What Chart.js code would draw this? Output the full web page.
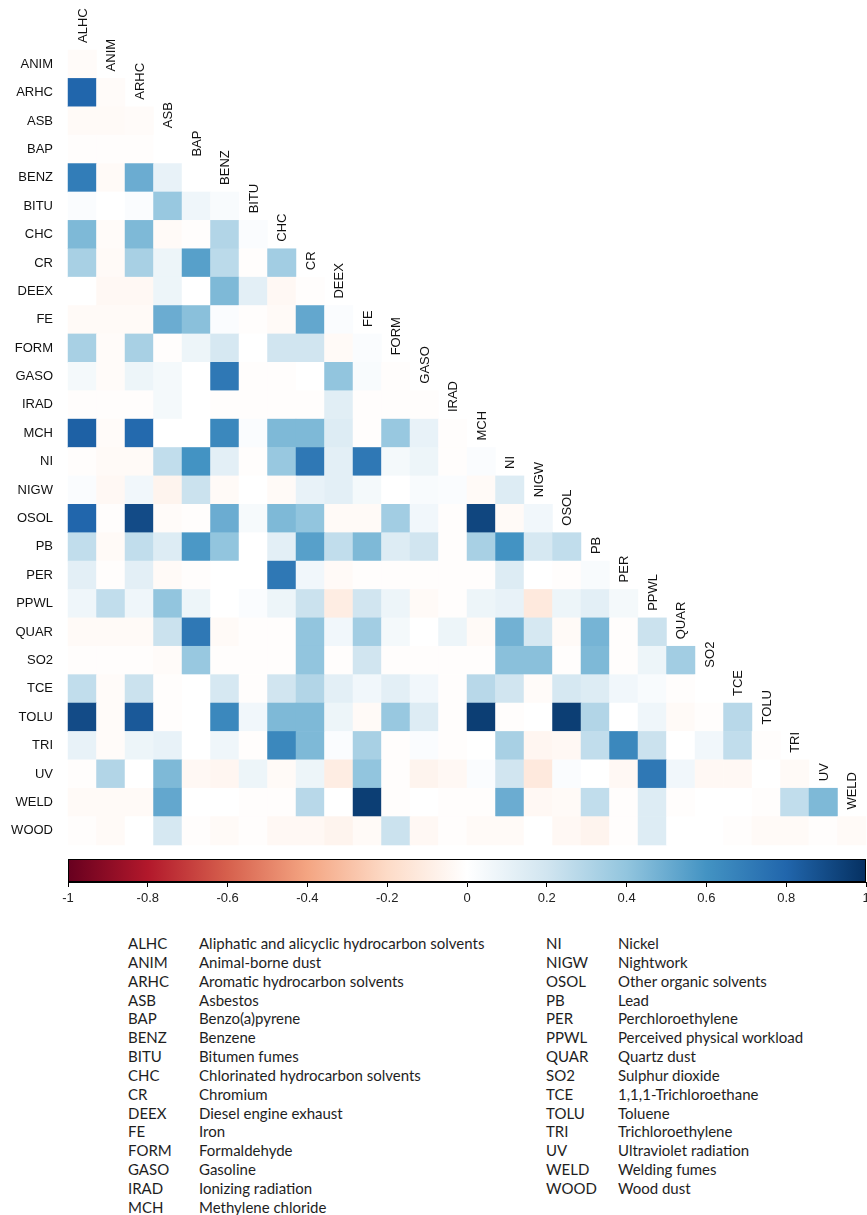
<!DOCTYPE html>
<html>
<head>
<meta charset="utf-8">
<script src="https://cdn.jsdelivr.net/npm/chart.js@4/dist/chart.umd.min.js"></script>
<style>
  body { margin: 0; width: 867px; height: 1215px; background: #fff; overflow: hidden; position: relative; }
  #heatWrap { position: absolute; left: 0; top: 0; width: 867px; height: 860px; }
  #barWrap { position: absolute; left: 0; top: 840px; width: 880px; height: 65px; }
  .key { position: absolute; font: 15px Lato, "Open Sans", sans-serif; color: #1e1e1e; line-height: 18.85px; white-space: nowrap; }
  .key div { height: 18.85px; }
</style>
</head>
<body>
<div id="heatWrap"><canvas id="heat"></canvas></div>
<div id="barWrap"><canvas id="bar"></canvas></div>
<div class="key" id="codesL" style="left:128px;top:934px"></div>
<div class="key" id="namesL" style="left:199px;top:934px"></div>
<div class="key" id="codesR" style="left:546px;top:934px"></div>
<div class="key" id="namesR" style="left:618px;top:934px"></div>
<script>
// exposure codes and what they stand for
const codes = ['ALHC', 'ANIM', 'ARHC', 'ASB', 'BAP', 'BENZ', 'BITU', 'CHC', 'CR', 'DEEX', 'FE', 'FORM', 'GASO', 'IRAD', 'MCH',
  'NI', 'NIGW', 'OSOL', 'PB', 'PER', 'PPWL', 'QUAR', 'SO2', 'TCE', 'TOLU', 'TRI', 'UV', 'WELD', 'WOOD'];
const names = ['Aliphatic and alicyclic hydrocarbon solvents', 'Animal-borne dust', 'Aromatic hydrocarbon solvents', 'Asbestos',
  'Benzo(a)pyrene', 'Benzene', 'Bitumen fumes', 'Chlorinated hydrocarbon solvents', 'Chromium', 'Diesel engine exhaust', 'Iron',
  'Formaldehyde', 'Gasoline', 'Ionizing radiation', 'Methylene chloride', 'Nickel', 'Nightwork', 'Other organic solvents', 'Lead',
  'Perchloroethylene', 'Perceived physical workload', 'Quartz dust', 'Sulphur dioxide', '1,1,1-Trichloroethane', 'Toluene',
  'Trichloroethylene', 'Ultraviolet radiation', 'Welding fumes', 'Wood dust'];

// lower triangle, one row per exposure (correlation with ALHC, ANIM, ... in order)
const ANIM = [-0.02];
const ARHC = [0.8, -0.02];
const ASB  = [-0.03, -0.03, -0.02];
const BAP  = [-0.01, -0.01, -0.01, 0];
const BENZ = [0.7, -0.03, 0.5, 0.1, 0];
const BITU = [0.02, 0, 0.02, 0.38, 0.07, 0.03];
const CHC  = [0.45, -0.02, 0.45, -0.03, -0.01, 0.3, 0.02];
const CR   = [0.33, -0.03, 0.33, 0.08, 0.55, 0.27, -0.01, 0.35];
const DEEX = [0, -0.04, -0.04, 0.08, 0, 0.45, 0.12, -0.04, -0.01];
const FE   = [-0.03, -0.03, -0.03, 0.5, 0.42, 0.02, -0.01, -0.03, 0.52, 0.02];
const FORM = [0.33, -0.02, 0.33, -0.01, 0.08, 0.18, 0, 0.2, 0.2, -0.03, 0.02];
const GASO = [0.05, -0.02, 0.08, 0.05, 0, 0.72, -0.01, -0.01, 0, 0.4, 0.03, -0.01];
const IRAD = [-0.01, -0.01, -0.01, 0.05, 0, -0.01, -0.01, -0.01, -0.01, 0.13, -0.01, -0.01, -0.01];
const MCH  = [0.82, -0.02, 0.78, 0, 0, 0.65, 0.02, 0.45, 0.45, 0.15, -0.01, 0.38, 0.1, -0.01];
const NI   = [-0.01, -0.03, -0.03, 0.25, 0.6, 0.12, -0.01, 0.38, 0.72, 0.12, 0.72, 0.05, 0.08, -0.01, 0.02];
const NIGW = [0.02, -0.04, 0.06, -0.06, 0.22, -0.03, 0, -0.03, 0.1, 0.12, 0.05, 0, 0.03, 0.02, -0.03, 0.15];
const OSOL = [0.8, -0.01, 0.9, -0.02, -0.01, 0.5, 0.04, 0.45, 0.4, -0.03, -0.03, 0.35, 0.06, -0.01, 0.92, -0.03, 0.06];
const PB   = [0.25, -0.03, 0.25, 0.15, 0.58, 0.4, 0, 0.12, 0.55, 0.25, 0.45, 0.15, 0.2, -0.01, 0.33, 0.6, 0.18, 0.25];
const PER  = [0.12, -0.01, 0.12, -0.03, -0.01, 0, 0, 0.72, 0.06, -0.03, -0.01, -0.01, -0.01, -0.01, -0.01, 0.15, 0, -0.01, 0.03];
const PPWL = [0.07, 0.25, 0.07, 0.4, 0.08, 0, 0.02, 0.08, 0.22, -0.1, 0.2, 0.08, -0.03, -0.01, 0.08, 0.1, -0.12, 0.08, 0.12, 0.05];
const QUAR = [-0.03, -0.03, -0.03, 0.22, 0.72, -0.03, -0.01, -0.01, 0.4, 0.06, 0.35, 0.05, 0, 0.08, -0.03, 0.48, 0.18, -0.03, 0.47, -0.01, 0.22];
const SO2  = [-0.01, -0.01, -0.01, -0.02, 0.38, -0.01, -0.01, -0.01, 0.4, -0.01, 0.2, -0.01, -0.01, -0.01, -0.01, 0.42, 0.42, -0.01, 0.45, -0.01, 0.08, 0.35];
const TCE  = [0.25, -0.02, 0.22, -0.01, 0, 0.18, -0.01, 0.2, 0.3, 0.12, 0.06, 0.12, 0.06, -0.01, 0.28, 0.2, -0.02, 0.18, 0.15, 0.06, 0.03, -0.01, 0];
const TOLU = [0.9, -0.02, 0.85, -0.01, 0, 0.65, 0.06, 0.45, 0.45, 0.08, -0.03, 0.38, 0.15, -0.01, 0.95, -0.01, 0, 0.95, 0.3, 0, 0.07, -0.03, -0.01, 0.28];
const TRI  = [0.1, -0.02, 0.08, 0.1, 0, 0.07, -0.01, 0.65, 0.45, 0.02, 0.33, -0.01, 0.02, -0.01, 0, 0.33, -0.05, -0.04, 0.25, 0.65, 0.22, 0, 0.06, 0.25, -0.01];
const UV   = [-0.01, 0.3, 0, 0.45, -0.04, -0.05, 0.08, -0.03, 0.08, -0.1, 0.4, -0.01, -0.06, -0.04, 0.02, 0.2, -0.12, 0.02, 0, -0.04, 0.72, 0.06, -0.04, -0.04, 0, -0.03];
const WELD = [-0.03, -0.03, -0.03, 0.52, 0, 0, -0.01, -0.01, 0.28, 0, 0.95, -0.01, 0, -0.01, -0.01, 0.5, -0.04, -0.03, 0.25, -0.01, 0.15, -0.01, 0, 0, -0.01, 0.25, 0.45];
const WOOD = [-0.01, -0.03, 0, 0.18, -0.01, -0.03, -0.01, -0.04, -0.04, -0.06, -0.03, 0.22, -0.04, -0.01, -0.03, -0.03, 0, -0.04, -0.06, -0.01, 0.15, 0, 0, -0.01, -0.03, -0.03, -0.01, -0.03];

const rows = [ANIM, ARHC, ASB, BAP, BENZ, BITU, CHC, CR, DEEX, FE, FORM, GASO, IRAD, MCH, NI, NIGW, OSOL, PB, PER, PPWL,
  QUAR, SO2, TCE, TOLU, TRI, UV, WELD, WOOD];
const rowCodes = codes.slice(1);
const colCodes = codes.slice(0, -1);
const colorTicks = [-1, -0.8, -0.6, -0.4, -0.2, 0, 0.2, 0.4, 0.6, 0.8, 1];

// RdBu palette (corrplot)
const palette = ['#67001F', '#B2182B', '#D6604D', '#F4A582', '#FDDBC7', '#FFFFFF', '#D1E5F0', '#92C5DE', '#4393C3', '#2166AC', '#053061'];

function hex(c) { return [1, 3, 5].map(i => parseInt(c.substr(i, 2), 16)); }
function rdbu(v) {
  const t = (Math.max(-1, Math.min(1, v)) + 1) / 2 * (palette.length - 1);
  const i = Math.min(palette.length - 2, Math.floor(t));
  const f = t - i;
  const a = hex(palette[i]), b = hex(palette[i + 1]);
  const c = a.map((x, k) => Math.round(x + (b[k] - x) * f));
  return `rgb(${c[0]},${c[1]},${c[2]})`;
}

const cells = [];
rows.forEach((r, i) => r.forEach((v, j) => cells.push({ x: j, y: i, v: v })));

const nCol = colCodes.length;
const labelPlugin = {
  id: 'labels',
  afterDraw(chart) {
    const { ctx, chartArea, scales: { x, y } } = chart;
    ctx.save();
    ctx.font = '13px "Liberation Sans", Arial, sans-serif';
    ctx.fillStyle = '#111';
    ctx.textBaseline = 'middle';
    ctx.textAlign = 'right';
    rowCodes.forEach((c, i) => ctx.fillText(c, chartArea.left - 15, y.getPixelForValue(i)));
    ctx.textAlign = 'left';
    colCodes.forEach((c, j) => {
      ctx.save();
      ctx.translate(x.getPixelForValue(j) + 1, y.getPixelForValue(j - 0.5) - 7);
      ctx.rotate(-Math.PI / 2);
      ctx.fillText(c, 0, 0);
      ctx.restore();
    });
    ctx.restore();
  }
};

new Chart(document.getElementById('heat'), {
  type: 'scatter',
  data: {
    datasets: [{
      data: cells,
      pointStyle: 'rect',
      pointBorderWidth: 0,
      backgroundColor: c => rdbu(c.raw.v),
      pointRadius: c => {
        const a = c.chart.chartArea;
        return a ? ((a.right - a.left) / nCol + 0.5) / Math.SQRT2 : 0;
      },
      clip: false
    }]
  },
  options: {
    responsive: true, maintainAspectRatio: false, animation: false, events: [],
    layout: { padding: { left: 68, top: 50, right: 1, bottom: 15 } },
    plugins: { legend: { display: false }, tooltip: { enabled: false } },
    scales: {
      x: { type: 'linear', min: -0.5, max: nCol - 0.5, display: false },
      y: { type: 'linear', min: -0.5, max: rowCodes.length - 0.5, reverse: true, display: false }
    }
  },
  plugins: [labelPlugin]
});

// colour key
const gradPlugin = {
  id: 'grad',
  beforeDatasetsDraw(chart) {
    const { ctx, chartArea: a, scales: { x } } = chart;
    const g = ctx.createLinearGradient(a.left, 0, a.right, 0);
    palette.forEach((c, i) => g.addColorStop((x.getPixelForValue(colorTicks[i]) - a.left) / (a.right - a.left), c));
    ctx.save();
    ctx.fillStyle = g;
    ctx.fillRect(a.left, a.top, a.right - a.left, a.bottom - a.top);
    ctx.strokeStyle = '#000';
    ctx.lineWidth = 1;
    ctx.strokeRect(a.left + 0.5, a.top + 0.5, a.right - a.left - 1, a.bottom - a.top - 1);
    ctx.restore();
  }
};

new Chart(document.getElementById('bar'), {
  type: 'scatter',
  data: { datasets: [{ data: [] }] },
  options: {
    responsive: true, maintainAspectRatio: false, animation: false, events: [],
    layout: { padding: { left: 68, top: 19, right: 14, bottom: 0 } },
    plugins: { legend: { display: false }, tooltip: { enabled: false } },
    scales: {
      x: {
        type: 'linear', min: -1, max: 1,
        afterBuildTicks: s => { s.ticks = colorTicks.map(v => ({ value: v })); },
        ticks: { autoSkip: false, maxRotation: 0, padding: 4, color: '#222',
          font: { family: '"Liberation Sans Narrow", "Liberation Sans", Arial', size: 13 },
          callback: v => String(+v.toFixed(1)) },
        grid: { drawOnChartArea: false, tickLength: 5, color: '#000' },
        border: { color: '#000' }
      },
      y: { min: 0, max: 1, display: false }
    }
  },
  plugins: [gradPlugin]
});

// abbreviation list
function fill(id, list) {
  document.getElementById(id).innerHTML = list.map(t => `<div>${t}</div>`).join('');
}
fill('codesL', codes.slice(0, 15));
fill('namesL', names.slice(0, 15));
fill('codesR', codes.slice(15));
fill('namesR', names.slice(15));
</script>
</body>
</html>
